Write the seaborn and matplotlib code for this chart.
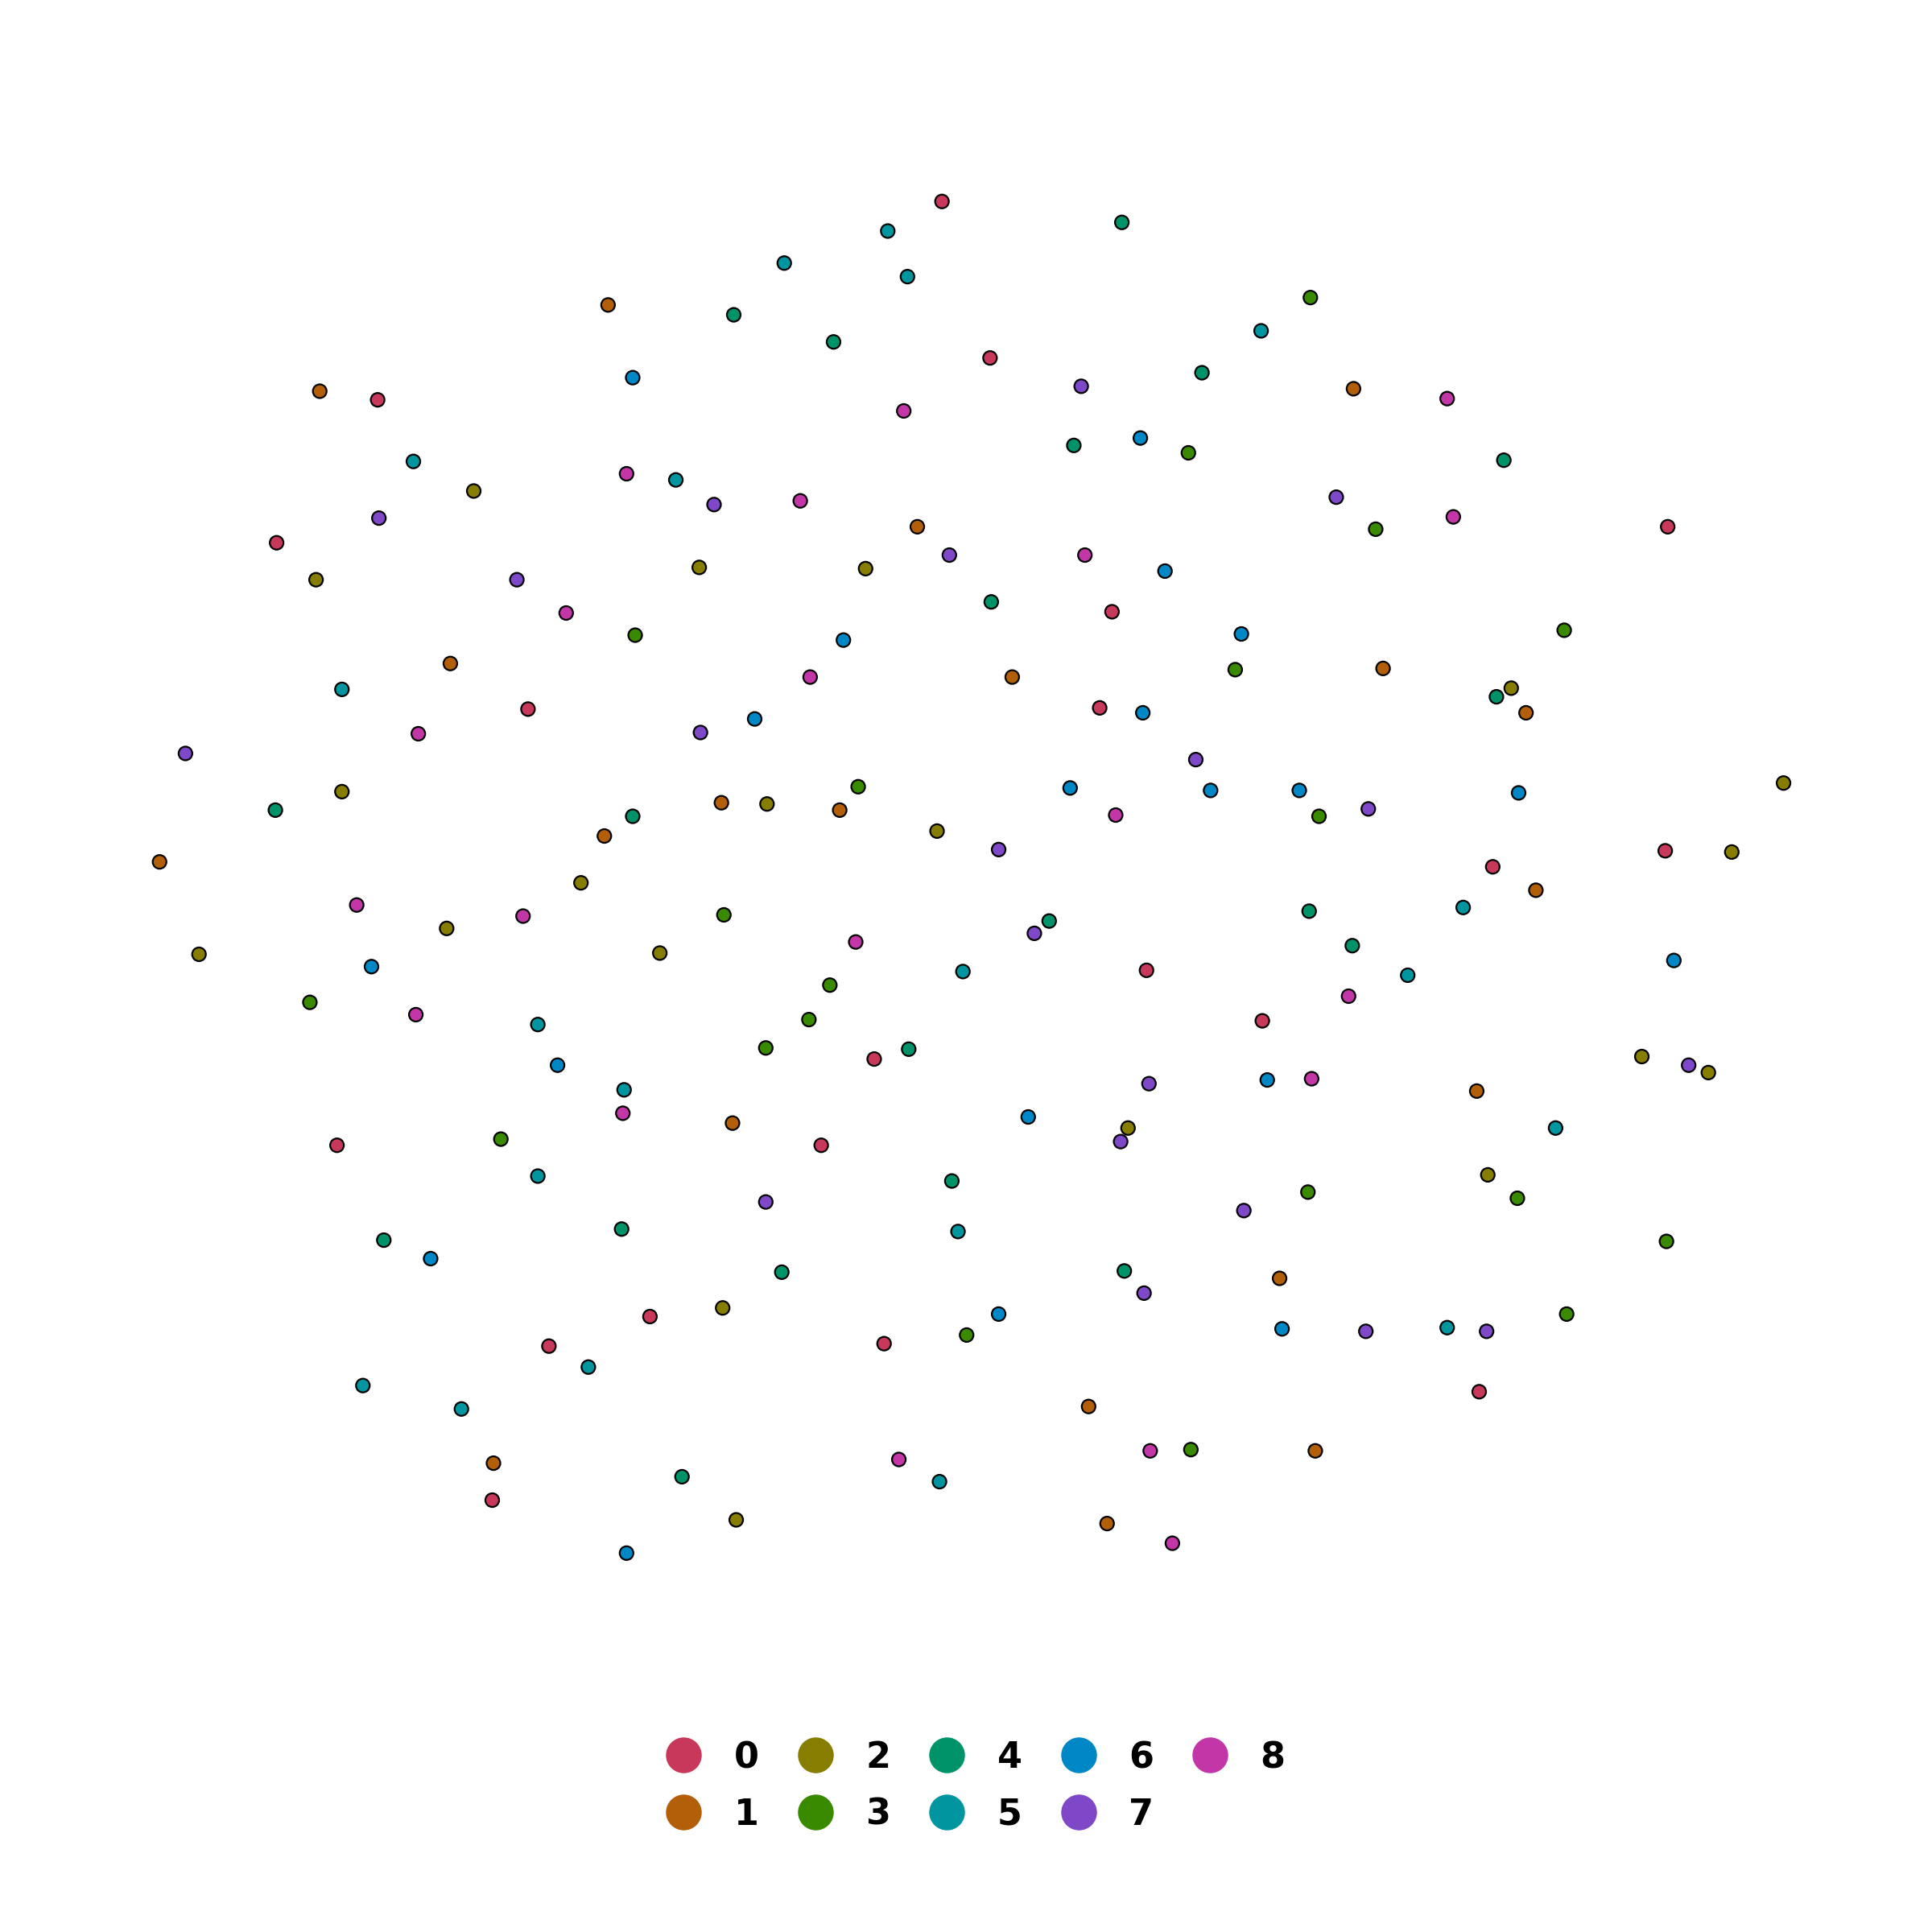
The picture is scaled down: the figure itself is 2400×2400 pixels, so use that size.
import pandas as pd
import matplotlib
matplotlib.use("Agg")
import matplotlib.pyplot as plt
import seaborn as sns

# embedding coordinates (image units, y grows downward)
x0 = [764, 306, 803, 1353, 224, 902, 428, 892, 1351, 1211, 930, 1024, 709, 273, 666, 527, 445, 717, 1200, 399]
y0 = [163, 324, 290, 427, 440, 496, 575, 574, 690, 703, 787, 828, 859, 929, 929, 1068, 1092, 1090, 1129, 1217]
x1 = [493, 259, 1098, 744, 365, 1122, 821, 1238, 585, 681, 490, 129, 1246, 1198, 594, 1038, 883, 1067, 400, 898]
y1 = [247, 317, 315, 427, 538, 542, 549, 578, 651, 657, 678, 699, 722, 885, 911, 1037, 1141, 1177, 1187, 1236]
x2 = [384, 256, 567, 702, 1226, 1447, 277, 622, 760, 1405, 471, 362, 161, 535, 1332, 1386, 915, 1207, 586, 597]
y2 = [398, 470, 460, 461, 558, 635, 642, 652, 674, 691, 716, 753, 774, 773, 857, 870, 915, 953, 1061, 1233]
x3 = [1063, 964, 1116, 515, 1269, 1002, 696, 1070, 587, 673, 251, 656, 621, 406, 1061, 1231, 1352, 1271, 784, 966]
y3 = [241, 367, 429, 515, 511, 543, 638, 662, 742, 799, 813, 827, 850, 924, 967, 972, 1007, 1066, 1083, 1176]
x4 = [910, 595, 676, 975, 871, 1220, 804, 1214, 223, 513, 1062, 851, 1097, 737, 772, 504, 311, 634, 912, 553]
y4 = [180, 255, 277, 302, 361, 373, 488, 565, 657, 662, 739, 747, 767, 851, 958, 997, 1006, 1032, 1031, 1198]
x5 = [720, 636, 736, 1023, 335, 548, 277, 1187, 781, 1142, 436, 506, 1262, 436, 777, 1174, 477, 294, 374, 762]
y5 = [187, 213, 224, 268, 374, 389, 559, 736, 788, 791, 831, 884, 915, 954, 999, 1077, 1109, 1124, 1143, 1202]
x6 = [513, 925, 945, 684, 1007, 927, 612, 868, 982, 1054, 1232, 301, 1358, 452, 1028, 834, 349, 810, 1040, 508]
y6 = [306, 355, 463, 519, 514, 578, 583, 639, 641, 641, 643, 784, 779, 864, 876, 906, 1021, 1066, 1078, 1260]
x7 = [877, 579, 1084, 307, 770, 419, 568, 150, 970, 1110, 810, 839, 1370, 932, 909, 621, 1009, 928, 1108, 1206]
y7 = [313, 409, 403, 420, 450, 470, 594, 611, 616, 656, 689, 757, 864, 879, 926, 975, 982, 1049, 1080, 1080]
x8 = [1174, 733, 508, 649, 1179, 880, 459, 657, 339, 905, 289, 424, 694, 1094, 337, 1064, 505, 933, 729, 951]
y8 = [323, 333, 384, 406, 419, 450, 497, 549, 595, 661, 734, 743, 764, 808, 823, 875, 903, 1177, 1184, 1252]

xs = [x0, x1, x2, x3, x4, x5, x6, x7, x8]
ys = [y0, y1, y2, y3, y4, y5, y6, y7, y8]
labels = [str(i) for i in range(9)]

colors = ["#c8385a", "#b35f0a", "#877d00", "#3a8a00", "#00936a",
          "#00959f", "#0088c6", "#7e48c8", "#c236a8"]

rows = []
for lab, xx, yy in zip(labels, xs, ys):
    for a, b in zip(xx, yy):
        rows.append({"x": a, "y": b, "label": lab})
df = pd.DataFrame(rows)

sns.set_style("white")
fig = plt.figure(figsize=(24, 24), dpi=100)
ax = fig.add_axes([0, 0, 1, 1])

sns.scatterplot(data=df, x="x", y="y", hue="label", hue_order=labels,
                palette=colors, s=150, edgecolor="black", linewidth=1.6,
                ax=ax, legend=True)

ax.set_xlim(-0.5, 1567.5)
ax.set_ylim(1567.5, -0.5)
ax.set_axis_off()

handles, labs = ax.get_legend_handles_labels()
for h in handles:
    h.set_markeredgewidth(0)
    h.set_markersize(32)
leg = ax.legend(handles, labs, loc="center", bbox_to_anchor=(0.504, 0.0755),
                ncol=5, frameon=False, prop={"size": 32, "weight": "bold"},
                handletextpad=0.8, columnspacing=0.98, labelspacing=0.62,
                handlelength=1.2)
for t in leg.get_texts():
    t.set_color("black")

fig.savefig("out.png", dpi=100)
